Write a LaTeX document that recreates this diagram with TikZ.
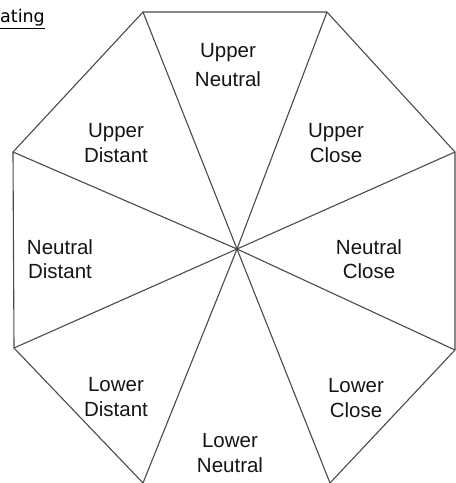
\documentclass[tikz,border=0pt]{standalone}
\usepackage{fontspec}
\setmainfont{Liberation Sans}
\newfontfamily\titlefont{DejaVu Sans}
\definecolor{edgegray}{HTML}{4A4A4A}
\definecolor{textgray}{HTML}{151515}
\begin{document}
\begin{tikzpicture}[x=1pt,y=-1pt,
  edge/.style={draw=edgegray,line width=1.1pt,line join=round},
  spoke/.style={draw=edgegray,line width=1.1pt},
  lab/.style={align=center,inner sep=0pt,text=textgray,font=\fontsize{20.5}{24.5}\selectfont},
  labwide/.style={lab,font=\fontsize{20.5}{29}\selectfont}]
\useasboundingbox (0,0) rectangle (456,483);
% title fragment
\node[anchor=base west,inner sep=0pt,font=\titlefont\fontsize{17.5}{20}\selectfont,text=black] (title) at (0,22.5) {ating};
\draw[black,line width=0.9pt] ([yshift=-6pt]title.base west) -- ([yshift=-6pt]title.base east);
% vertices
\coordinate (v1) at (143,12);
\coordinate (v2) at (327,12);
\coordinate (v3) at (455,152);
\coordinate (v4) at (455,350);
\coordinate (v5) at (330,483);
\coordinate (v6) at (143,483);
\coordinate (v7) at (14,348);
\coordinate (v8) at (13,152);
\coordinate (c) at (237,249);
% outline (bottom edge outside the picture)
\draw[edge] (v5) -- (v4) -- (v3) -- (v2) -- (v1) -- (v8) -- (v7) -- (v6);
% spokes
\foreach \v in {v1,v2,v3,v4,v5,v6,v7,v8} \draw[spoke] (c) -- (\v);
% labels
\node[labwide] (un) at (228,65.5) {Upper\\Neutral};
\node[lab] (ud) at (116,143) {Upper\\Distant};
\node[lab] (uc) at (336,143) {Upper\\Close};
\node[lab] (nd) at (60,259) {Neutral\\Distant};
\node[lab] (nc) at (369,259) {Neutral\\Close};
\node[lab] (ld) at (116,397) {Lower\\Distant};
\node[lab] (lc) at (356,398) {Lower\\Close};
\node[lab] (ln) at (230,453) {Lower\\Neutral};
\end{tikzpicture}
\end{document}
